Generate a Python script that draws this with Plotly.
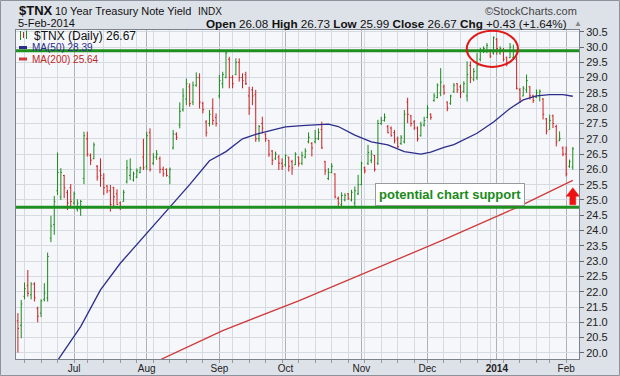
import pandas as pd
import plotly.graph_objects as go

# ---------------- data ----------------
holidays = ["2013-07-04", "2013-09-02", "2013-11-28", "2013-12-25", "2014-01-01", "2014-01-20"]
start_date, end_date = "2013-06-06", "2014-02-05"

opens = [21.05, 20.90, 21.85, 22.20, 21.90, 22.25, 21.45, 21.30, 21.75, 21.80,
         23.75, 24.20, 25.30, 25.10, 25.80, 25.25, 25.40, 24.90, 24.70, 24.70,
         25.70, 27.00, 26.45, 26.35, 26.10, 25.95, 25.70, 25.45, 25.30, 25.40,
         25.20, 24.90, 24.95, 25.60, 25.80, 25.65, 25.75, 25.90, 26.40, 26.10,
         27.20, 26.20, 26.40, 26.35, 26.00, 26.00, 25.75, 26.70, 27.15, 27.45,
         27.95, 28.30, 28.70, 28.20, 28.75, 29.00, 28.15, 27.55, 27.50, 28.00,
         27.70, 28.40, 28.80, 29.00, 29.60, 29.00, 29.10, 29.50, 29.00, 29.10,
         28.40, 28.60, 28.45, 27.00, 27.50, 27.15, 26.95, 26.60, 26.35, 26.40,
         26.20, 26.15, 26.40, 26.25, 26.15, 26.40, 26.20, 26.40, 26.90, 26.85,
         26.90, 27.00, 27.30, 26.25, 25.70, 25.90, 25.85, 25.05, 24.85, 25.00,
         25.20, 25.00, 24.90, 25.20, 25.50, 26.05, 26.20, 26.30, 26.45, 26.20,
         27.50, 27.60, 27.40, 27.35, 27.20, 27.00, 26.85, 26.90, 28.20, 27.75,
         27.55, 27.35, 27.10, 27.45, 27.70, 27.80, 28.25, 28.35, 28.50, 28.70,
         28.20, 28.15, 28.55, 28.80, 28.70, 28.55, 28.40, 29.40, 28.95, 29.00,
         29.60, 29.85, 29.85, 29.90, 29.80, 30.25, 29.80, 29.90, 29.65, 29.65,
         29.65, 29.60, 28.60, 28.40, 28.60, 28.70, 28.40, 28.35, 28.40, 28.30,
         27.65, 27.30, 27.75, 27.40, 26.95, 26.70, 26.50, 26.10, 26.08]
highs = [21.30, 21.73, 22.30, 22.71, 22.31, 22.31, 21.51, 21.75, 22.28, 23.28,
         24.48, 25.13, 26.55, 26.04, 25.82, 25.33, 25.52, 25.27, 25.02, 25.00,
         27.23, 27.23, 26.52, 26.88, 26.14, 26.36, 25.87, 25.49, 25.49, 25.43,
         25.35, 24.95, 25.33, 26.31, 26.36, 25.93, 26.03, 26.09, 27.00, 27.23,
         27.34, 26.53, 26.63, 26.42, 26.09, 26.03, 26.06, 27.29, 27.21, 28.19,
         28.65, 28.97, 28.81, 28.87, 29.17, 29.14, 28.21, 27.61, 27.94, 28.32,
         27.83, 29.08, 29.19, 29.85, 29.68, 29.08, 29.63, 29.63, 29.14, 29.19,
         28.70, 28.70, 28.60, 27.45, 27.72, 27.18, 26.96, 26.63, 26.58, 26.47,
         26.36, 26.49, 26.41, 26.31, 26.56, 26.42, 26.58, 26.69, 27.21, 26.89,
         27.29, 27.34, 27.56, 26.28, 26.04, 26.20, 25.87, 25.11, 25.25, 25.22,
         25.22, 25.33, 25.44, 25.82, 26.25, 26.09, 26.80, 26.63, 26.47, 27.62,
         27.72, 27.83, 27.45, 27.40, 27.29, 27.07, 27.12, 27.94, 28.34, 27.78,
         27.61, 27.40, 27.56, 27.72, 28.10, 27.83, 28.49, 28.81, 29.31, 28.77,
         28.22, 28.44, 28.82, 28.82, 28.77, 28.88, 29.53, 29.53, 29.31, 29.80,
         29.97, 30.02, 30.13, 29.91, 30.35, 30.29, 30.02, 29.97, 29.69, 30.13,
         30.08, 29.69, 28.66, 28.72, 29.10, 28.72, 28.44, 28.61, 28.61, 28.33,
         27.68, 27.79, 27.79, 27.46, 27.24, 26.75, 26.75, 26.32, 26.73]
lows = [20.01, 20.48, 21.75, 21.84, 21.75, 21.68, 21.00, 21.17, 21.68, 21.68,
        23.62, 23.86, 25.16, 25.00, 25.06, 24.67, 24.78, 24.84, 24.62, 24.48,
        25.52, 26.42, 26.14, 26.33, 25.63, 25.43, 25.16, 25.22, 24.62, 24.78,
        24.84, 24.67, 24.95, 25.54, 25.65, 25.60, 25.71, 25.87, 25.98, 25.98,
        25.93, 26.14, 26.31, 25.87, 25.76, 25.76, 25.51, 26.65, 26.96, 27.34,
        27.89, 28.10, 28.05, 28.10, 28.70, 27.99, 27.83, 27.07, 27.40, 27.45,
        27.40, 28.32, 28.65, 28.98, 28.65, 28.65, 29.08, 28.87, 28.65, 28.76,
        27.78, 28.10, 26.90, 26.90, 27.18, 26.90, 26.41, 26.14, 26.31, 25.98,
        25.98, 26.09, 25.93, 25.82, 26.14, 26.09, 26.14, 26.36, 26.85, 26.42,
        26.85, 26.96, 26.67, 25.82, 25.65, 25.87, 25.05, 24.73, 24.78, 24.95,
        25.00, 24.95, 24.78, 25.16, 25.49, 25.87, 26.14, 26.20, 25.93, 26.14,
        27.45, 27.56, 27.18, 27.07, 26.85, 26.69, 26.80, 26.85, 27.51, 27.40,
        27.29, 26.91, 27.07, 27.40, 27.67, 27.62, 28.21, 28.32, 28.39, 28.44,
        27.90, 28.11, 28.50, 28.50, 28.33, 28.50, 28.22, 28.82, 28.88, 28.93,
        29.53, 29.80, 29.80, 29.64, 29.75, 29.75, 29.75, 29.53, 29.37, 29.64,
        29.59, 28.61, 28.17, 28.39, 28.50, 28.28, 28.17, 28.33, 28.22, 27.63,
        27.14, 27.30, 27.35, 26.75, 26.92, 26.43, 25.77, 26.05, 25.99]
closes = [20.80, 21.60, 22.10, 21.95, 22.25, 21.80, 21.20, 21.70, 21.95, 23.15,
          24.15, 24.95, 25.90, 25.90, 25.40, 24.90, 24.95, 25.20, 24.90, 24.95,
          27.10, 26.50, 26.30, 26.80, 25.75, 25.80, 25.40, 25.30, 24.85, 25.10,
          24.85, 24.75, 25.25, 26.05, 26.00, 25.85, 25.95, 26.05, 26.05, 27.10,
          26.00, 26.40, 26.50, 26.00, 25.85, 25.80, 26.00, 27.15, 27.05, 27.90,
          28.40, 28.80, 28.15, 28.75, 29.00, 28.20, 27.95, 27.20, 27.80, 27.60,
          27.50, 28.90, 29.10, 29.80, 29.00, 28.80, 29.50, 29.00, 28.90, 28.80,
          28.00, 28.40, 27.00, 27.40, 27.35, 27.00, 26.50, 26.30, 26.50, 26.20,
          26.10, 26.45, 26.10, 26.05, 26.50, 26.20, 26.45, 26.60, 27.05, 26.70,
          27.00, 27.20, 26.70, 25.95, 25.90, 26.10, 25.10, 24.90, 25.15, 25.15,
          25.05, 25.25, 25.30, 25.50, 26.20, 25.95, 26.55, 26.50, 26.00, 27.50,
          27.60, 27.70, 27.20, 27.10, 26.95, 26.75, 27.05, 27.80, 27.80, 27.50,
          27.35, 27.00, 27.45, 27.60, 28.00, 27.70, 28.40, 28.75, 28.85, 28.50,
          28.00, 28.40, 28.75, 28.60, 28.50, 28.80, 29.10, 29.00, 29.20, 29.40,
          29.90, 29.95, 30.05, 29.70, 30.30, 29.95, 29.95, 29.60, 29.45, 30.00,
          29.85, 28.65, 28.30, 28.65, 28.90, 28.40, 28.25, 28.50, 28.55, 27.80,
          27.25, 27.60, 27.50, 26.90, 27.00, 26.50, 25.85, 26.25, 26.67]

ma50_dates = ["2013-06-21", "2013-06-24", "2013-07-03", "2013-07-12", "2013-07-22", "2013-08-01",
              "2013-08-08", "2013-08-20", "2013-08-28", "2013-09-05", "2013-09-12", "2013-09-18",
              "2013-09-25", "2013-10-01", "2013-10-08", "2013-10-11", "2013-10-18", "2013-10-23",
              "2013-10-30", "2013-11-06", "2013-11-13", "2013-11-20", "2013-11-27", "2013-12-03",
              "2013-12-09", "2013-12-12", "2013-12-23", "2013-12-31", "2014-01-08", "2014-01-14",
              "2014-01-21", "2014-01-27", "2014-01-31", "2014-02-05"]
ma50_vals = [19.55, 19.75, 20.86, 22.06, 22.93, 23.91,
             24.50, 25.50, 26.28, 26.58, 27.00, 27.14,
             27.28, 27.39, 27.43, 27.45, 27.48, 27.40,
             27.12, 26.90, 26.80, 26.58, 26.50, 26.56,
             26.72, 26.81, 27.18, 27.55, 27.99, 28.27,
             28.40, 28.44, 28.44, 28.39]

ma200_dates = ["2013-08-06", "2013-09-04", "2013-10-07", "2013-11-05", "2013-12-09", "2014-01-10", "2014-02-05"]
ma200_vals = [19.72, 20.73, 21.70, 22.66, 23.70, 24.75, 25.64]

month_start_dates = ["2013-07-01", "2013-08-01", "2013-09-03", "2013-10-01",
                     "2013-11-01", "2013-12-02", "2014-01-02", "2014-02-03"]
month_labels = ["Jul", "Aug", "Sep", "Oct", "Nov", "Dec", "<b>2014</b>", "Feb"]

support_levels = [29.88, 24.76]

# ---------------- build ----------------
dates = [d for d in pd.bdate_range(start_date, end_date) if d.strftime("%Y-%m-%d") not in holidays]
pos = {d.strftime("%Y-%m-%d"): i for i, d in enumerate(dates)}
xi = list(range(len(dates)))
week_starts = [i for i in range(1, len(dates))
               if dates[i].isocalendar()[1] != dates[i - 1].isocalendar()[1]]

GREEN = "#1c8a1c"
RED = "#cc2020"
NAVY = "#2c2c8c"
MARED = "#d03a3a"

fig = go.Figure()
fig.add_trace(go.Ohlc(
    x=xi, open=opens, high=highs, low=lows, close=closes,
    increasing=dict(line=dict(color=GREEN, width=1)),
    decreasing=dict(line=dict(color=RED, width=1)),
    tickwidth=0.35, hoverinfo="skip", showlegend=False))
fig.add_trace(go.Scatter(x=[pos[d] for d in ma50_dates], y=ma50_vals, mode="lines",
                         line=dict(color=NAVY, width=1.3), hoverinfo="skip", showlegend=False))
fig.add_trace(go.Scatter(x=[pos[d] for d in ma200_dates], y=ma200_vals, mode="lines",
                         line=dict(color=MARED, width=1.3), hoverinfo="skip", showlegend=False))

L, R, T, B = 16, 579, 30, 359
def px(x): return (x - L) / (R - L)
def py(y): return (B - y) / (B - T)

shapes = []
for lv in support_levels:
    shapes.append(dict(type="line", xref="paper", x0=0, x1=1, yref="y", y0=lv, y1=lv,
                       line=dict(color="#1f8f1f", width=3), layer="above"))
# red ellipse around top
shapes.append(dict(type="circle", xref="x", yref="y", x0=135.9, x1=151.4, y0=29.35, y1=30.53,
                   line=dict(color="#e01818", width=2), layer="above"))
# red up arrow
shapes.append(dict(type="path", xref="x", yref="y",
                   path="M 166.0 25.12 L 168.0 25.40 L 170.0 25.12 L 168.9 25.12 L 168.9 24.84 "
                        "L 167.1 24.84 L 167.1 25.12 Z",
                   fillcolor="#ee1111", line=dict(color="#ee1111", width=0.5), layer="above"))
# outer frame
shapes.append(dict(type="rect", xref="paper", yref="paper", x0=px(0.5), x1=px(619.5),
                   y0=py(375.5), y1=py(0.5), line=dict(color="#8c939c", width=1), layer="below"))
# legend glyphs
shapes.append(dict(type="line", xref="paper", yref="paper", x0=px(19), x1=px(27), y0=py(47.5), y1=py(47.5),
                   line=dict(color=NAVY, width=3)))
shapes.append(dict(type="line", xref="paper", yref="paper", x0=px(19), x1=px(27), y0=py(59), y1=py(59),
                   line=dict(color=MARED, width=3)))
for (gx, gy0, gy1, c) in [(20.5, 31, 40, GREEN), (23.5, 32, 38, RED), (26.5, 30.5, 39, GREEN)]:
    shapes.append(dict(type="line", xref="paper", yref="paper", x0=px(gx), x1=px(gx),
                       y0=py(gy1), y1=py(gy0), line=dict(color=c, width=1)))

ann = []
def text(x, y, s, size, color="#111", anchor="left", bold=False, family="Arial"):
    ann.append(dict(xref="paper", yref="paper", x=px(x), y=py(y), text=("<b>%s</b>" % s) if bold else s,
                    showarrow=False, xanchor=anchor, yanchor="middle",
                    font=dict(family=family, size=size, color=color)))

text(16.6, 10.5, "$TNX", 13, bold=True)
text(52.6, 11, "10 Year Treasury Note Yield", 11)
text(195.6, 11.5, "INDX", 10)
text(579, 11, "©StockCharts.com", 11, color="#444", anchor="right")
text(16, 23.5, "5-Feb-2014", 11)
text(569, 23.5, "<b>Open</b> 26.08 <b>High</b> 26.73 <b>Low</b> 25.99 <b>Close</b> 26.67 <b>Chg</b> +0.43 (+1.64%)",
     11.7, anchor="right")
text(572, 23, "▲", 8, color="#888")
text(31.5, 35.5, "$TNX (Daily) 26.67", 12)
text(29.7, 47.5, "MA(50) 28.39", 10, color=NAVY)
text(29.7, 59, "MA(200) 25.64", 10, color="#c02828")

ann.append(dict(xref="paper", yref="paper", x=px(450), y=py(194.5),
                text="<b>potential chart support</b>", showarrow=False,
                xanchor="center", yanchor="middle",
                font=dict(family="Arial", size=13, color="#1a8a1a"),
                bgcolor="white", bordercolor="#9a9a9a", borderwidth=1, borderpad=3))

fig.update_layout(
    width=620, height=376,
    margin=dict(l=L, r=620 - R, t=T, b=376 - B, autoexpand=False),
    paper_bgcolor="#dde1e8", plot_bgcolor="#f5f7fb",
    shapes=shapes, annotations=ann, showlegend=False,
    xaxis=dict(range=[-0.58, 169.88], rangeslider=dict(visible=False), automargin=False,
               tickmode="array", tickvals=[pos[d] for d in month_start_dates], ticktext=month_labels,
               showgrid=True, gridcolor="#adb2ba", gridwidth=1, zeroline=False,
               ticks="",
               tickfont=dict(family="Arial", size=10, color="#222"),
               minor=dict(tickmode="array", tickvals=week_starts, showgrid=True, gridcolor="#d6dae1",
                          ticks="outside", ticklen=3, tickcolor="#999"),
               showline=True, mirror=True, linecolor="#7c828c", linewidth=1),
    yaxis=dict(side="right", range=[19.80, 30.556], tick0=20, dtick=0.5, tickformat=".1f",
               automargin=False,
               showgrid=True, gridcolor="#d6dae1", zeroline=False,
               ticks="outside", ticklen=4, tickcolor="#666",
               tickfont=dict(family="Arial", size=11, color="#222"),
               showline=True, mirror=True, linecolor="#7c828c", linewidth=1),
)

fig.write_html("out.html", config={"displayModeBar": False, "staticPlot": True},
               post_script="document.body.style.margin='0';document.body.style.padding='0';"
                           "document.body.style.overflow='hidden';")
